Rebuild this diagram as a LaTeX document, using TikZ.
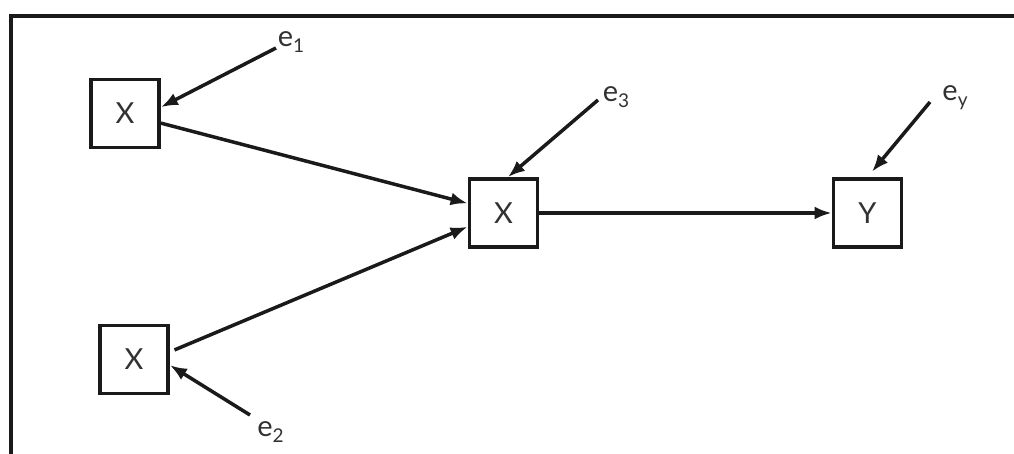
\documentclass[tikz,border=0pt]{standalone}
\usepackage{fontspec}
\setmainfont{Lato}
\usetikzlibrary{arrows.meta}
\definecolor{ink}{RGB}{26,26,26}
\definecolor{txt}{RGB}{50,50,50}
% error term label: "e" with a lowered index
\newcommand{\esub}[1]{e\raisebox{-6pt}{\fontsize{19}{19}\selectfont #1}}
\begin{document}
\begin{tikzpicture}[x=1pt,y=-1pt,
  box/.style={draw=ink, line width=3.8pt, minimum size=68pt, inner sep=0pt,
              text=txt, font=\fontsize{29}{29}\selectfont},
  lbl/.style={inner sep=0pt, text=txt, font=\fontsize{29}{29}\selectfont},
  arr/.style={draw=ink, line width=3.5pt, -{Latex[length=17pt,width=13pt]}},
  frameline/.style={draw=ink, line width=3.8pt}]
\useasboundingbox (0,0) rectangle (1014,454);
\clip (0,0) rectangle (1014,454);

% open frame (top and left edges)
\draw[frameline] (1020,16) -- (11,16) -- (11,460);

% variables
\node[box] (x1) at (125,113.5) {X};
\node[box] (x2) at (134,359.5) {X};
\node[box] (x3) at (503.5,213) {X};
\node[box] (y)  at (867.5,213) {Y};

% error terms
\node[lbl] (e1) at (291,42)    {\esub{1}};
\node[lbl] (e2) at (270.5,432) {\esub{2}};
\node[lbl] (e3) at (616,97)    {\esub{3}};
\node[lbl] (ey) at (955,98)    {\esub{y}};

\coordinate (s1) at (276,48);
\coordinate (s2) at (250,415);
\coordinate (s3) at (598,100);
\coordinate (sy) at (930,102);

% paths between variables
\draw[arr] (x1.-15) -- (x3.165);
\draw[arr, shorten <=5pt] (x2.12) -- (x3.201);
\draw[arr, line width=3.2pt] (x3.east) -- (y.west);

% error arrows
\draw[arr] (s1) -- (x1.10);
\draw[arr] (s2) -- (x2.-9);
\draw[arr] (s3) -- (x3.83);
\draw[arr, shorten >=7pt] (sy) -- (y.north);
\end{tikzpicture}
\end{document}
